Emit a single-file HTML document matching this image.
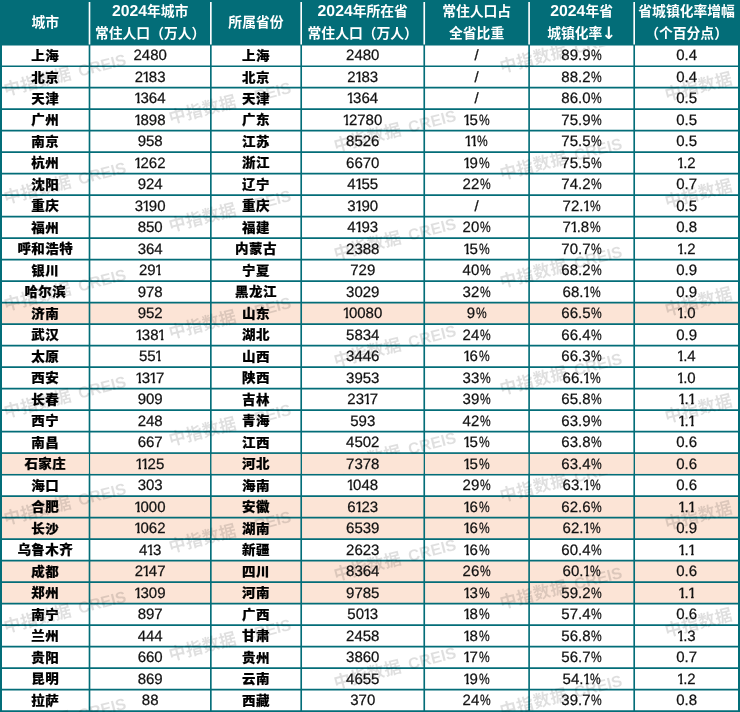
<!DOCTYPE html>
<html lang="zh-CN">
<head>
<meta charset="utf-8">
<title>2024年城市常住人口与省城镇化率</title>
<style>
html,body{margin:0;padding:0;background:#fff;}
body{width:740px;height:712px;overflow:hidden;position:relative;font-family:"Liberation Sans","Noto Sans CJK SC",sans-serif;}
.grid{position:absolute;left:0;top:0;display:block;}
.tbl{position:absolute;left:0;top:0;width:740px;height:712px;}
.hc{position:absolute;top:0;height:45px;color:#fff;font-weight:700;font-size:13.8px;line-height:21px;white-space:nowrap;text-align:center;}
.hc>span{display:block;position:absolute;left:0;right:0;height:21px;}
.hc .s1{top:11.9px;}
.hc .l1{top:0.6px;}
.hc .l2{top:23.2px;}
.hc .d{font-size:15.8px;font-weight:700;letter-spacing:0;text-rendering:geometricPrecision;}
.hc .ar{text-decoration:none;font-family:"DejaVu Sans",sans-serif;font-size:17px;font-weight:700;line-height:1px;position:relative;top:0.5px;margin-left:-0.5px;}
.wm .l{font-style:normal;font-size:16px;letter-spacing:0;margin-left:2.5px;}
.c .p{text-decoration:none;display:inline-block;transform:scaleX(0.8);transform-origin:0 50%;margin:0 -2.7px 0 0.8px;}
.c .o{font-style:normal;display:inline-block;margin:0 -1.8px 0 -0.8px;clip-path:polygon(0 0,100% 0,100% 12.3px,5.8px 12.3px,5.8px 100%,3.2px 100%,3.2px 12.3px,0 12.3px);}
.r{position:absolute;left:0;width:740px;height:21.5px;}
.c{position:absolute;top:0.2px;height:21.5px;line-height:21.5px;text-align:center;white-space:nowrap;color:#111;font-size:15.0px;letter-spacing:0px;text-rendering:geometricPrecision;-webkit-text-stroke:0.25px #111;}
.c.b{text-rendering:auto;-webkit-text-stroke:0.2px #000;transform:scaleY(0.95);font-weight:900;font-size:13.5px;color:#000;top:-0.3px;letter-spacing:0.4px;}
.wm{position:absolute;left:0;top:46px;width:740px;height:666px;overflow:hidden;pointer-events:none;}
.wm>span{position:absolute;white-space:nowrap;font-size:17px;color:rgba(0,0,0,0.125);transform-origin:8.5px 50%;transform:rotate(-14.5deg);line-height:20px;height:20px;margin-top:-10px;margin-left:-8.5px;font-weight:700;letter-spacing:0.3px;}
</style>
</head>
<body>

<svg class="grid" aria-hidden="true" width="740" height="712" viewBox="0 0 740 712">
<rect x="0" y="0" width="740" height="712" fill="#fff"/>
<rect x="0" y="302.64" width="740" height="21.495" fill="#fce4d6"/>
<rect x="0" y="453.11" width="740" height="21.495" fill="#fce4d6"/>
<rect x="0" y="496.10" width="740" height="21.495" fill="#fce4d6"/>
<rect x="0" y="517.59" width="740" height="21.495" fill="#fce4d6"/>
<rect x="0" y="560.58" width="740" height="21.495" fill="#fce4d6"/>
<rect x="0" y="582.08" width="740" height="21.495" fill="#fce4d6"/>
<rect x="0" y="0" width="740" height="45.5" fill="#036d78"/>
<line x1="89.5" y1="2" x2="89.5" y2="44.5" stroke="#fff" stroke-width="1.65"/>
<line x1="210.85" y1="2" x2="210.85" y2="44.5" stroke="#fff" stroke-width="1.65"/>
<line x1="301.2" y1="2" x2="301.2" y2="44.5" stroke="#fff" stroke-width="1.65"/>
<line x1="424.25" y1="2" x2="424.25" y2="44.5" stroke="#fff" stroke-width="1.65"/>
<line x1="529.1" y1="2" x2="529.1" y2="44.5" stroke="#fff" stroke-width="1.65"/>
<line x1="634.2" y1="2" x2="634.2" y2="44.5" stroke="#fff" stroke-width="1.65"/>
<line x1="0" y1="66.20" x2="740" y2="66.20" stroke="#036d78" stroke-width="1.65"/>
<line x1="0" y1="87.69" x2="740" y2="87.69" stroke="#036d78" stroke-width="1.65"/>
<line x1="0" y1="109.19" x2="740" y2="109.19" stroke="#036d78" stroke-width="1.65"/>
<line x1="0" y1="130.68" x2="740" y2="130.68" stroke="#036d78" stroke-width="1.65"/>
<line x1="0" y1="152.18" x2="740" y2="152.18" stroke="#036d78" stroke-width="1.65"/>
<line x1="0" y1="173.67" x2="740" y2="173.67" stroke="#036d78" stroke-width="1.65"/>
<line x1="0" y1="195.17" x2="740" y2="195.17" stroke="#036d78" stroke-width="1.65"/>
<line x1="0" y1="216.66" x2="740" y2="216.66" stroke="#036d78" stroke-width="1.65"/>
<line x1="0" y1="238.16" x2="740" y2="238.16" stroke="#036d78" stroke-width="1.65"/>
<line x1="0" y1="259.65" x2="740" y2="259.65" stroke="#036d78" stroke-width="1.65"/>
<line x1="0" y1="281.15" x2="740" y2="281.15" stroke="#036d78" stroke-width="1.65"/>
<line x1="0" y1="302.64" x2="740" y2="302.64" stroke="#036d78" stroke-width="1.65"/>
<line x1="0" y1="324.13" x2="740" y2="324.13" stroke="#036d78" stroke-width="1.65"/>
<line x1="0" y1="345.63" x2="740" y2="345.63" stroke="#036d78" stroke-width="1.65"/>
<line x1="0" y1="367.12" x2="740" y2="367.12" stroke="#036d78" stroke-width="1.65"/>
<line x1="0" y1="388.62" x2="740" y2="388.62" stroke="#036d78" stroke-width="1.65"/>
<line x1="0" y1="410.12" x2="740" y2="410.12" stroke="#036d78" stroke-width="1.65"/>
<line x1="0" y1="431.61" x2="740" y2="431.61" stroke="#036d78" stroke-width="1.65"/>
<line x1="0" y1="453.11" x2="740" y2="453.11" stroke="#036d78" stroke-width="1.65"/>
<line x1="0" y1="474.60" x2="740" y2="474.60" stroke="#036d78" stroke-width="1.65"/>
<line x1="0" y1="496.10" x2="740" y2="496.10" stroke="#036d78" stroke-width="1.65"/>
<line x1="0" y1="517.59" x2="740" y2="517.59" stroke="#036d78" stroke-width="1.65"/>
<line x1="0" y1="539.09" x2="740" y2="539.09" stroke="#036d78" stroke-width="1.65"/>
<line x1="0" y1="560.58" x2="740" y2="560.58" stroke="#036d78" stroke-width="1.65"/>
<line x1="0" y1="582.08" x2="740" y2="582.08" stroke="#036d78" stroke-width="1.65"/>
<line x1="0" y1="603.57" x2="740" y2="603.57" stroke="#036d78" stroke-width="1.65"/>
<line x1="0" y1="625.07" x2="740" y2="625.07" stroke="#036d78" stroke-width="1.65"/>
<line x1="0" y1="646.56" x2="740" y2="646.56" stroke="#036d78" stroke-width="1.65"/>
<line x1="0" y1="668.06" x2="740" y2="668.06" stroke="#036d78" stroke-width="1.65"/>
<line x1="0" y1="689.55" x2="740" y2="689.55" stroke="#036d78" stroke-width="1.65"/>
<line x1="0" y1="711.05" x2="740" y2="711.05" stroke="#036d78" stroke-width="1.65"/>
<line x1="1.0" y1="45.0" x2="1.0" y2="712" stroke="#036d78" stroke-width="2.0"/>
<line x1="89.5" y1="45.0" x2="89.5" y2="712" stroke="#036d78" stroke-width="1.65"/>
<line x1="210.85" y1="45.0" x2="210.85" y2="712" stroke="#036d78" stroke-width="1.65"/>
<line x1="301.2" y1="45.0" x2="301.2" y2="712" stroke="#036d78" stroke-width="1.65"/>
<line x1="424.25" y1="45.0" x2="424.25" y2="712" stroke="#036d78" stroke-width="1.65"/>
<line x1="529.1" y1="45.0" x2="529.1" y2="712" stroke="#036d78" stroke-width="1.65"/>
<line x1="634.2" y1="45.0" x2="634.2" y2="712" stroke="#036d78" stroke-width="1.65"/>
<line x1="739.0" y1="45.0" x2="739.0" y2="712" stroke="#036d78" stroke-width="2.0"/>
</svg>
<div class="wm" aria-hidden="true">
<span style="left:12.3px;top:-64.1px">中指数据 <span class="l">CREIS</span></span>
<span style="left:12.3px;top:43.2px">中指数据 <span class="l">CREIS</span></span>
<span style="left:12.3px;top:150.5px">中指数据 <span class="l">CREIS</span></span>
<span style="left:12.3px;top:257.7px">中指数据 <span class="l">CREIS</span></span>
<span style="left:12.3px;top:365.0px">中指数据 <span class="l">CREIS</span></span>
<span style="left:12.3px;top:472.2px">中指数据 <span class="l">CREIS</span></span>
<span style="left:12.3px;top:579.5px">中指数据 <span class="l">CREIS</span></span>
<span style="left:12.3px;top:686.8px">中指数据 <span class="l">CREIS</span></span>
<span style="left:177.6px;top:-36.1px">中指数据 <span class="l">CREIS</span></span>
<span style="left:177.6px;top:71.2px">中指数据 <span class="l">CREIS</span></span>
<span style="left:177.6px;top:178.5px">中指数据 <span class="l">CREIS</span></span>
<span style="left:177.6px;top:285.7px">中指数据 <span class="l">CREIS</span></span>
<span style="left:177.6px;top:393.0px">中指数据 <span class="l">CREIS</span></span>
<span style="left:177.6px;top:500.2px">中指数据 <span class="l">CREIS</span></span>
<span style="left:177.6px;top:607.5px">中指数据 <span class="l">CREIS</span></span>
<span style="left:177.6px;top:714.8px">中指数据 <span class="l">CREIS</span></span>
<span style="left:342.9px;top:-8.1px">中指数据 <span class="l">CREIS</span></span>
<span style="left:342.9px;top:99.2px">中指数据 <span class="l">CREIS</span></span>
<span style="left:342.9px;top:206.5px">中指数据 <span class="l">CREIS</span></span>
<span style="left:342.9px;top:313.7px">中指数据 <span class="l">CREIS</span></span>
<span style="left:342.9px;top:421.0px">中指数据 <span class="l">CREIS</span></span>
<span style="left:342.9px;top:528.2px">中指数据 <span class="l">CREIS</span></span>
<span style="left:342.9px;top:635.5px">中指数据 <span class="l">CREIS</span></span>
<span style="left:508.2px;top:19.9px">中指数据 <span class="l">CREIS</span></span>
<span style="left:508.2px;top:127.2px">中指数据 <span class="l">CREIS</span></span>
<span style="left:508.2px;top:234.5px">中指数据 <span class="l">CREIS</span></span>
<span style="left:508.2px;top:341.7px">中指数据 <span class="l">CREIS</span></span>
<span style="left:508.2px;top:449.0px">中指数据 <span class="l">CREIS</span></span>
<span style="left:508.2px;top:556.2px">中指数据 <span class="l">CREIS</span></span>
<span style="left:508.2px;top:663.5px">中指数据 <span class="l">CREIS</span></span>
<span style="left:673.5px;top:-59.3px">中指数据 <span class="l">CREIS</span></span>
<span style="left:673.5px;top:47.9px">中指数据 <span class="l">CREIS</span></span>
<span style="left:673.5px;top:155.2px">中指数据 <span class="l">CREIS</span></span>
<span style="left:673.5px;top:262.5px">中指数据 <span class="l">CREIS</span></span>
<span style="left:673.5px;top:369.7px">中指数据 <span class="l">CREIS</span></span>
<span style="left:673.5px;top:477.0px">中指数据 <span class="l">CREIS</span></span>
<span style="left:673.5px;top:584.2px">中指数据 <span class="l">CREIS</span></span>
<span style="left:673.5px;top:691.5px">中指数据 <span class="l">CREIS</span></span>
</div>
<svg class="grid" aria-hidden="true" width="740" height="712" viewBox="0 0 740 712">
<rect x="2.00" y="453.93" width="86.67" height="19.85" fill="#fce4d6"/>
<rect x="90.33" y="453.93" width="119.70" height="19.85" fill="#fce4d6"/>
<rect x="211.67" y="453.93" width="88.70" height="19.85" fill="#fce4d6"/>
<rect x="302.02" y="453.93" width="121.40" height="19.85" fill="#fce4d6"/>
<rect x="425.07" y="453.93" width="103.20" height="19.85" fill="#fce4d6"/>
<rect x="529.93" y="453.93" width="103.45" height="19.85" fill="#fce4d6"/>
<rect x="635.03" y="453.93" width="102.97" height="19.85" fill="#fce4d6"/>
</svg>
<div class="tbl" role="table">
<div class="hc" role="columnheader" style="left:1.0px;width:88.5px"><span class="s1">城市</span></div>
<div class="hc" role="columnheader" style="left:89.5px;width:121.3px"><span class="l1"><span class="d">2024</span>年城市</span><span class="l2">常住人口（万人）</span></div>
<div class="hc" role="columnheader" style="left:210.8px;width:90.3px"><span class="s1">所属省份</span></div>
<div class="hc" role="columnheader" style="left:301.2px;width:123.1px"><span class="l1"><span class="d">2024</span>年所在省</span><span class="l2">常住人口（万人）</span></div>
<div class="hc" role="columnheader" style="left:424.2px;width:104.9px"><span class="l1">常住人口占</span><span class="l2">全省比重</span></div>
<div class="hc" role="columnheader" style="left:529.1px;width:105.1px"><span class="l1"><span class="d">2024</span>年省</span><span class="l2">城镇化率<span class="ar">↓</span></span></div>
<div class="hc" role="columnheader" style="left:634.2px;width:104.8px"><span class="l1">省城镇化率增幅</span><span class="l2">（个百分点）</span></div>
<div class="r" role="row" style="top:45.30px"><div class="c b" role="cell" style="left:1.0px;width:88.5px">上海</div><div class="c" role="cell" style="left:89.5px;width:121.3px">2480</div><div class="c b" role="cell" style="left:210.8px;width:90.3px">上海</div><div class="c" role="cell" style="left:301.2px;width:123.1px">2480</div><div class="c" role="cell" style="left:424.2px;width:104.9px">/</div><div class="c" role="cell" style="left:529.1px;width:105.1px">89.9<span class='p'>%</span></div><div class="c" role="cell" style="left:634.2px;width:104.8px">0.4</div></div>
<div class="r" role="row" style="top:66.80px"><div class="c b" role="cell" style="left:1.0px;width:88.5px">北京</div><div class="c" role="cell" style="left:89.5px;width:121.3px">2<span class='o'>1</span>83</div><div class="c b" role="cell" style="left:210.8px;width:90.3px">北京</div><div class="c" role="cell" style="left:301.2px;width:123.1px">2<span class='o'>1</span>83</div><div class="c" role="cell" style="left:424.2px;width:104.9px">/</div><div class="c" role="cell" style="left:529.1px;width:105.1px">88.2<span class='p'>%</span></div><div class="c" role="cell" style="left:634.2px;width:104.8px">0.4</div></div>
<div class="r" role="row" style="top:88.29px"><div class="c b" role="cell" style="left:1.0px;width:88.5px">天津</div><div class="c" role="cell" style="left:89.5px;width:121.3px"><span class='o'>1</span>364</div><div class="c b" role="cell" style="left:210.8px;width:90.3px">天津</div><div class="c" role="cell" style="left:301.2px;width:123.1px"><span class='o'>1</span>364</div><div class="c" role="cell" style="left:424.2px;width:104.9px">/</div><div class="c" role="cell" style="left:529.1px;width:105.1px">86.0<span class='p'>%</span></div><div class="c" role="cell" style="left:634.2px;width:104.8px">0.5</div></div>
<div class="r" role="row" style="top:109.78px"><div class="c b" role="cell" style="left:1.0px;width:88.5px">广州</div><div class="c" role="cell" style="left:89.5px;width:121.3px"><span class='o'>1</span>898</div><div class="c b" role="cell" style="left:210.8px;width:90.3px">广东</div><div class="c" role="cell" style="left:301.2px;width:123.1px"><span class='o'>1</span>2780</div><div class="c" role="cell" style="left:424.2px;width:104.9px"><span class='o'>1</span>5<span class='p'>%</span></div><div class="c" role="cell" style="left:529.1px;width:105.1px">75.9<span class='p'>%</span></div><div class="c" role="cell" style="left:634.2px;width:104.8px">0.5</div></div>
<div class="r" role="row" style="top:131.28px"><div class="c b" role="cell" style="left:1.0px;width:88.5px">南京</div><div class="c" role="cell" style="left:89.5px;width:121.3px">958</div><div class="c b" role="cell" style="left:210.8px;width:90.3px">江苏</div><div class="c" role="cell" style="left:301.2px;width:123.1px">8526</div><div class="c" role="cell" style="left:424.2px;width:104.9px"><span class='o'>1</span><span class='o'>1</span><span class='p'>%</span></div><div class="c" role="cell" style="left:529.1px;width:105.1px">75.5<span class='p'>%</span></div><div class="c" role="cell" style="left:634.2px;width:104.8px">0.5</div></div>
<div class="r" role="row" style="top:152.78px"><div class="c b" role="cell" style="left:1.0px;width:88.5px">杭州</div><div class="c" role="cell" style="left:89.5px;width:121.3px"><span class='o'>1</span>262</div><div class="c b" role="cell" style="left:210.8px;width:90.3px">浙江</div><div class="c" role="cell" style="left:301.2px;width:123.1px">6670</div><div class="c" role="cell" style="left:424.2px;width:104.9px"><span class='o'>1</span>9<span class='p'>%</span></div><div class="c" role="cell" style="left:529.1px;width:105.1px">75.5<span class='p'>%</span></div><div class="c" role="cell" style="left:634.2px;width:104.8px"><span class='o'>1</span>.2</div></div>
<div class="r" role="row" style="top:174.27px"><div class="c b" role="cell" style="left:1.0px;width:88.5px">沈阳</div><div class="c" role="cell" style="left:89.5px;width:121.3px">924</div><div class="c b" role="cell" style="left:210.8px;width:90.3px">辽宁</div><div class="c" role="cell" style="left:301.2px;width:123.1px">4<span class='o'>1</span>55</div><div class="c" role="cell" style="left:424.2px;width:104.9px">22<span class='p'>%</span></div><div class="c" role="cell" style="left:529.1px;width:105.1px">74.2<span class='p'>%</span></div><div class="c" role="cell" style="left:634.2px;width:104.8px">0.7</div></div>
<div class="r" role="row" style="top:195.77px"><div class="c b" role="cell" style="left:1.0px;width:88.5px">重庆</div><div class="c" role="cell" style="left:89.5px;width:121.3px">3<span class='o'>1</span>90</div><div class="c b" role="cell" style="left:210.8px;width:90.3px">重庆</div><div class="c" role="cell" style="left:301.2px;width:123.1px">3<span class='o'>1</span>90</div><div class="c" role="cell" style="left:424.2px;width:104.9px">/</div><div class="c" role="cell" style="left:529.1px;width:105.1px">72.<span class='o'>1</span><span class='p'>%</span></div><div class="c" role="cell" style="left:634.2px;width:104.8px">0.5</div></div>
<div class="r" role="row" style="top:217.26px"><div class="c b" role="cell" style="left:1.0px;width:88.5px">福州</div><div class="c" role="cell" style="left:89.5px;width:121.3px">850</div><div class="c b" role="cell" style="left:210.8px;width:90.3px">福建</div><div class="c" role="cell" style="left:301.2px;width:123.1px">4<span class='o'>1</span>93</div><div class="c" role="cell" style="left:424.2px;width:104.9px">20<span class='p'>%</span></div><div class="c" role="cell" style="left:529.1px;width:105.1px">7<span class='o'>1</span>.8<span class='p'>%</span></div><div class="c" role="cell" style="left:634.2px;width:104.8px">0.8</div></div>
<div class="r" role="row" style="top:238.76px"><div class="c b" role="cell" style="left:1.0px;width:88.5px">呼和浩特</div><div class="c" role="cell" style="left:89.5px;width:121.3px">364</div><div class="c b" role="cell" style="left:210.8px;width:90.3px">内蒙古</div><div class="c" role="cell" style="left:301.2px;width:123.1px">2388</div><div class="c" role="cell" style="left:424.2px;width:104.9px"><span class='o'>1</span>5<span class='p'>%</span></div><div class="c" role="cell" style="left:529.1px;width:105.1px">70.7<span class='p'>%</span></div><div class="c" role="cell" style="left:634.2px;width:104.8px"><span class='o'>1</span>.2</div></div>
<div class="r" role="row" style="top:260.25px"><div class="c b" role="cell" style="left:1.0px;width:88.5px">银川</div><div class="c" role="cell" style="left:89.5px;width:121.3px">29<span class='o'>1</span></div><div class="c b" role="cell" style="left:210.8px;width:90.3px">宁夏</div><div class="c" role="cell" style="left:301.2px;width:123.1px">729</div><div class="c" role="cell" style="left:424.2px;width:104.9px">40<span class='p'>%</span></div><div class="c" role="cell" style="left:529.1px;width:105.1px">68.2<span class='p'>%</span></div><div class="c" role="cell" style="left:634.2px;width:104.8px">0.9</div></div>
<div class="r" role="row" style="top:281.75px"><div class="c b" role="cell" style="left:1.0px;width:88.5px">哈尔滨</div><div class="c" role="cell" style="left:89.5px;width:121.3px">978</div><div class="c b" role="cell" style="left:210.8px;width:90.3px">黑龙江</div><div class="c" role="cell" style="left:301.2px;width:123.1px">3029</div><div class="c" role="cell" style="left:424.2px;width:104.9px">32<span class='p'>%</span></div><div class="c" role="cell" style="left:529.1px;width:105.1px">68.<span class='o'>1</span><span class='p'>%</span></div><div class="c" role="cell" style="left:634.2px;width:104.8px">0.9</div></div>
<div class="r" role="row" style="top:303.24px"><div class="c b" role="cell" style="left:1.0px;width:88.5px">济南</div><div class="c" role="cell" style="left:89.5px;width:121.3px">952</div><div class="c b" role="cell" style="left:210.8px;width:90.3px">山东</div><div class="c" role="cell" style="left:301.2px;width:123.1px"><span class='o'>1</span>0080</div><div class="c" role="cell" style="left:424.2px;width:104.9px">9<span class='p'>%</span></div><div class="c" role="cell" style="left:529.1px;width:105.1px">66.5<span class='p'>%</span></div><div class="c" role="cell" style="left:634.2px;width:104.8px"><span class='o'>1</span>.0</div></div>
<div class="r" role="row" style="top:324.74px"><div class="c b" role="cell" style="left:1.0px;width:88.5px">武汉</div><div class="c" role="cell" style="left:89.5px;width:121.3px"><span class='o'>1</span>38<span class='o'>1</span></div><div class="c b" role="cell" style="left:210.8px;width:90.3px">湖北</div><div class="c" role="cell" style="left:301.2px;width:123.1px">5834</div><div class="c" role="cell" style="left:424.2px;width:104.9px">24<span class='p'>%</span></div><div class="c" role="cell" style="left:529.1px;width:105.1px">66.4<span class='p'>%</span></div><div class="c" role="cell" style="left:634.2px;width:104.8px">0.9</div></div>
<div class="r" role="row" style="top:346.23px"><div class="c b" role="cell" style="left:1.0px;width:88.5px">太原</div><div class="c" role="cell" style="left:89.5px;width:121.3px">55<span class='o'>1</span></div><div class="c b" role="cell" style="left:210.8px;width:90.3px">山西</div><div class="c" role="cell" style="left:301.2px;width:123.1px">3446</div><div class="c" role="cell" style="left:424.2px;width:104.9px"><span class='o'>1</span>6<span class='p'>%</span></div><div class="c" role="cell" style="left:529.1px;width:105.1px">66.3<span class='p'>%</span></div><div class="c" role="cell" style="left:634.2px;width:104.8px"><span class='o'>1</span>.4</div></div>
<div class="r" role="row" style="top:367.73px"><div class="c b" role="cell" style="left:1.0px;width:88.5px">西安</div><div class="c" role="cell" style="left:89.5px;width:121.3px"><span class='o'>1</span>3<span class='o'>1</span>7</div><div class="c b" role="cell" style="left:210.8px;width:90.3px">陕西</div><div class="c" role="cell" style="left:301.2px;width:123.1px">3953</div><div class="c" role="cell" style="left:424.2px;width:104.9px">33<span class='p'>%</span></div><div class="c" role="cell" style="left:529.1px;width:105.1px">66.<span class='o'>1</span><span class='p'>%</span></div><div class="c" role="cell" style="left:634.2px;width:104.8px"><span class='o'>1</span>.0</div></div>
<div class="r" role="row" style="top:389.22px"><div class="c b" role="cell" style="left:1.0px;width:88.5px">长春</div><div class="c" role="cell" style="left:89.5px;width:121.3px">909</div><div class="c b" role="cell" style="left:210.8px;width:90.3px">吉林</div><div class="c" role="cell" style="left:301.2px;width:123.1px">23<span class='o'>1</span>7</div><div class="c" role="cell" style="left:424.2px;width:104.9px">39<span class='p'>%</span></div><div class="c" role="cell" style="left:529.1px;width:105.1px">65.8<span class='p'>%</span></div><div class="c" role="cell" style="left:634.2px;width:104.8px"><span class='o'>1</span>.<span class='o'>1</span></div></div>
<div class="r" role="row" style="top:410.72px"><div class="c b" role="cell" style="left:1.0px;width:88.5px">西宁</div><div class="c" role="cell" style="left:89.5px;width:121.3px">248</div><div class="c b" role="cell" style="left:210.8px;width:90.3px">青海</div><div class="c" role="cell" style="left:301.2px;width:123.1px">593</div><div class="c" role="cell" style="left:424.2px;width:104.9px">42<span class='p'>%</span></div><div class="c" role="cell" style="left:529.1px;width:105.1px">63.9<span class='p'>%</span></div><div class="c" role="cell" style="left:634.2px;width:104.8px"><span class='o'>1</span>.<span class='o'>1</span></div></div>
<div class="r" role="row" style="top:432.21px"><div class="c b" role="cell" style="left:1.0px;width:88.5px">南昌</div><div class="c" role="cell" style="left:89.5px;width:121.3px">667</div><div class="c b" role="cell" style="left:210.8px;width:90.3px">江西</div><div class="c" role="cell" style="left:301.2px;width:123.1px">4502</div><div class="c" role="cell" style="left:424.2px;width:104.9px"><span class='o'>1</span>5<span class='p'>%</span></div><div class="c" role="cell" style="left:529.1px;width:105.1px">63.8<span class='p'>%</span></div><div class="c" role="cell" style="left:634.2px;width:104.8px">0.6</div></div>
<div class="r" role="row" style="top:453.71px"><div class="c b" role="cell" style="left:1.0px;width:88.5px">石家庄</div><div class="c" role="cell" style="left:89.5px;width:121.3px"><span class='o'>1</span><span class='o'>1</span>25</div><div class="c b" role="cell" style="left:210.8px;width:90.3px">河北</div><div class="c" role="cell" style="left:301.2px;width:123.1px">7378</div><div class="c" role="cell" style="left:424.2px;width:104.9px"><span class='o'>1</span>5<span class='p'>%</span></div><div class="c" role="cell" style="left:529.1px;width:105.1px">63.4<span class='p'>%</span></div><div class="c" role="cell" style="left:634.2px;width:104.8px">0.6</div></div>
<div class="r" role="row" style="top:475.20px"><div class="c b" role="cell" style="left:1.0px;width:88.5px">海口</div><div class="c" role="cell" style="left:89.5px;width:121.3px">303</div><div class="c b" role="cell" style="left:210.8px;width:90.3px">海南</div><div class="c" role="cell" style="left:301.2px;width:123.1px"><span class='o'>1</span>048</div><div class="c" role="cell" style="left:424.2px;width:104.9px">29<span class='p'>%</span></div><div class="c" role="cell" style="left:529.1px;width:105.1px">63.<span class='o'>1</span><span class='p'>%</span></div><div class="c" role="cell" style="left:634.2px;width:104.8px">0.6</div></div>
<div class="r" role="row" style="top:496.70px"><div class="c b" role="cell" style="left:1.0px;width:88.5px">合肥</div><div class="c" role="cell" style="left:89.5px;width:121.3px"><span class='o'>1</span>000</div><div class="c b" role="cell" style="left:210.8px;width:90.3px">安徽</div><div class="c" role="cell" style="left:301.2px;width:123.1px">6<span class='o'>1</span>23</div><div class="c" role="cell" style="left:424.2px;width:104.9px"><span class='o'>1</span>6<span class='p'>%</span></div><div class="c" role="cell" style="left:529.1px;width:105.1px">62.6<span class='p'>%</span></div><div class="c" role="cell" style="left:634.2px;width:104.8px"><span class='o'>1</span>.<span class='o'>1</span></div></div>
<div class="r" role="row" style="top:518.19px"><div class="c b" role="cell" style="left:1.0px;width:88.5px">长沙</div><div class="c" role="cell" style="left:89.5px;width:121.3px"><span class='o'>1</span>062</div><div class="c b" role="cell" style="left:210.8px;width:90.3px">湖南</div><div class="c" role="cell" style="left:301.2px;width:123.1px">6539</div><div class="c" role="cell" style="left:424.2px;width:104.9px"><span class='o'>1</span>6<span class='p'>%</span></div><div class="c" role="cell" style="left:529.1px;width:105.1px">62.<span class='o'>1</span><span class='p'>%</span></div><div class="c" role="cell" style="left:634.2px;width:104.8px">0.9</div></div>
<div class="r" role="row" style="top:539.69px"><div class="c b" role="cell" style="left:1.0px;width:88.5px">乌鲁木齐</div><div class="c" role="cell" style="left:89.5px;width:121.3px">4<span class='o'>1</span>3</div><div class="c b" role="cell" style="left:210.8px;width:90.3px">新疆</div><div class="c" role="cell" style="left:301.2px;width:123.1px">2623</div><div class="c" role="cell" style="left:424.2px;width:104.9px"><span class='o'>1</span>6<span class='p'>%</span></div><div class="c" role="cell" style="left:529.1px;width:105.1px">60.4<span class='p'>%</span></div><div class="c" role="cell" style="left:634.2px;width:104.8px"><span class='o'>1</span>.<span class='o'>1</span></div></div>
<div class="r" role="row" style="top:561.18px"><div class="c b" role="cell" style="left:1.0px;width:88.5px">成都</div><div class="c" role="cell" style="left:89.5px;width:121.3px">2<span class='o'>1</span>47</div><div class="c b" role="cell" style="left:210.8px;width:90.3px">四川</div><div class="c" role="cell" style="left:301.2px;width:123.1px">8364</div><div class="c" role="cell" style="left:424.2px;width:104.9px">26<span class='p'>%</span></div><div class="c" role="cell" style="left:529.1px;width:105.1px">60.<span class='o'>1</span><span class='p'>%</span></div><div class="c" role="cell" style="left:634.2px;width:104.8px">0.6</div></div>
<div class="r" role="row" style="top:582.68px"><div class="c b" role="cell" style="left:1.0px;width:88.5px">郑州</div><div class="c" role="cell" style="left:89.5px;width:121.3px"><span class='o'>1</span>309</div><div class="c b" role="cell" style="left:210.8px;width:90.3px">河南</div><div class="c" role="cell" style="left:301.2px;width:123.1px">9785</div><div class="c" role="cell" style="left:424.2px;width:104.9px"><span class='o'>1</span>3<span class='p'>%</span></div><div class="c" role="cell" style="left:529.1px;width:105.1px">59.2<span class='p'>%</span></div><div class="c" role="cell" style="left:634.2px;width:104.8px"><span class='o'>1</span>.<span class='o'>1</span></div></div>
<div class="r" role="row" style="top:604.17px"><div class="c b" role="cell" style="left:1.0px;width:88.5px">南宁</div><div class="c" role="cell" style="left:89.5px;width:121.3px">897</div><div class="c b" role="cell" style="left:210.8px;width:90.3px">广西</div><div class="c" role="cell" style="left:301.2px;width:123.1px">50<span class='o'>1</span>3</div><div class="c" role="cell" style="left:424.2px;width:104.9px"><span class='o'>1</span>8<span class='p'>%</span></div><div class="c" role="cell" style="left:529.1px;width:105.1px">57.4<span class='p'>%</span></div><div class="c" role="cell" style="left:634.2px;width:104.8px">0.6</div></div>
<div class="r" role="row" style="top:625.67px"><div class="c b" role="cell" style="left:1.0px;width:88.5px">兰州</div><div class="c" role="cell" style="left:89.5px;width:121.3px">444</div><div class="c b" role="cell" style="left:210.8px;width:90.3px">甘肃</div><div class="c" role="cell" style="left:301.2px;width:123.1px">2458</div><div class="c" role="cell" style="left:424.2px;width:104.9px"><span class='o'>1</span>8<span class='p'>%</span></div><div class="c" role="cell" style="left:529.1px;width:105.1px">56.8<span class='p'>%</span></div><div class="c" role="cell" style="left:634.2px;width:104.8px"><span class='o'>1</span>.3</div></div>
<div class="r" role="row" style="top:647.16px"><div class="c b" role="cell" style="left:1.0px;width:88.5px">贵阳</div><div class="c" role="cell" style="left:89.5px;width:121.3px">660</div><div class="c b" role="cell" style="left:210.8px;width:90.3px">贵州</div><div class="c" role="cell" style="left:301.2px;width:123.1px">3860</div><div class="c" role="cell" style="left:424.2px;width:104.9px"><span class='o'>1</span>7<span class='p'>%</span></div><div class="c" role="cell" style="left:529.1px;width:105.1px">56.7<span class='p'>%</span></div><div class="c" role="cell" style="left:634.2px;width:104.8px">0.7</div></div>
<div class="r" role="row" style="top:668.66px"><div class="c b" role="cell" style="left:1.0px;width:88.5px">昆明</div><div class="c" role="cell" style="left:89.5px;width:121.3px">869</div><div class="c b" role="cell" style="left:210.8px;width:90.3px">云南</div><div class="c" role="cell" style="left:301.2px;width:123.1px">4655</div><div class="c" role="cell" style="left:424.2px;width:104.9px"><span class='o'>1</span>9<span class='p'>%</span></div><div class="c" role="cell" style="left:529.1px;width:105.1px">54.<span class='o'>1</span><span class='p'>%</span></div><div class="c" role="cell" style="left:634.2px;width:104.8px"><span class='o'>1</span>.2</div></div>
<div class="r" role="row" style="top:690.15px"><div class="c b" role="cell" style="left:1.0px;width:88.5px">拉萨</div><div class="c" role="cell" style="left:89.5px;width:121.3px">88</div><div class="c b" role="cell" style="left:210.8px;width:90.3px">西藏</div><div class="c" role="cell" style="left:301.2px;width:123.1px">370</div><div class="c" role="cell" style="left:424.2px;width:104.9px">24<span class='p'>%</span></div><div class="c" role="cell" style="left:529.1px;width:105.1px">39.7<span class='p'>%</span></div><div class="c" role="cell" style="left:634.2px;width:104.8px">0.8</div></div>
</div>
</body>
</html>
